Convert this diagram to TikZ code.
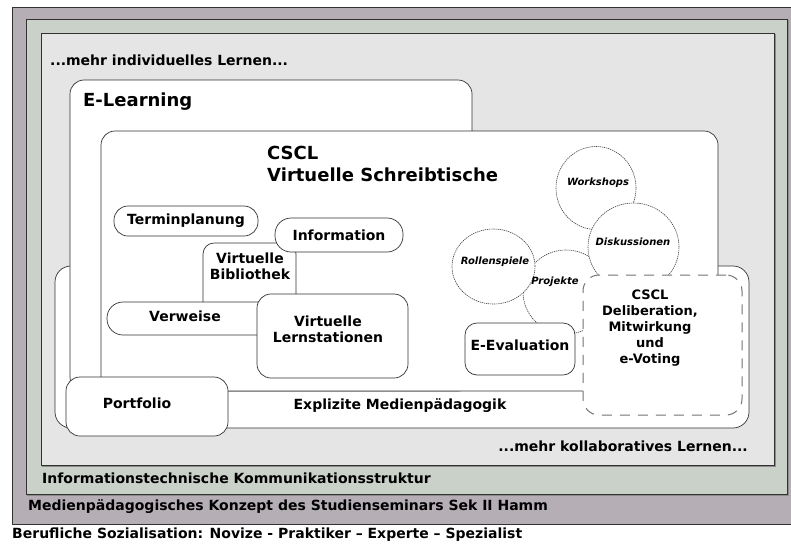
\documentclass[tikz,border=0pt]{standalone}
\usepackage{fontspec}
\setmainfont{DejaVu Sans}
\usetikzlibrary{shapes.geometric}
\definecolor{outerc}{RGB}{181,174,181}
\definecolor{greenc}{RGB}{201,209,201}
\definecolor{lightc}{RGB}{229,229,229}
\definecolor{linec}{RGB}{50,50,50}
\tikzset{
  frame/.style={draw=linec, line width=0.9pt},
  rbox/.style={draw=linec, fill=white, line width=0.7pt, rounded corners=#1, inner sep=0pt, outer sep=0pt},
  rbox/.default=12pt,
  ell/.style={ellipse, draw=black!75, fill=white, line width=0.6pt, dash pattern=on 1.3pt off 0.8pt, inner sep=0pt, outer sep=0pt},
  dbox/.style={draw=black!55, fill=white, line width=1pt, rounded corners=16pt, dash pattern=on 10pt off 8pt, inner sep=0pt, outer sep=0pt},
  tx/.style={font=\fontsize{14}{16}\selectfont\bfseries, inner sep=0pt, align=center},
  ttl/.style={font=\fontsize{18}{22}\selectfont\bfseries, inner sep=0pt, align=left},
  ctx/.style={font=\fontsize{10}{12}\selectfont\bfseries\itshape, inner sep=0pt},
}
\begin{document}
\begin{tikzpicture}[x=1pt,y=-1pt]
\useasboundingbox (0,0) rectangle (791,544);
\fill[white] (0,0) rectangle (791,544);
% layered background frames
\path[frame, fill=outerc] (12,7) rectangle (792,524);
\path[frame, fill=greenc] (26,19) rectangle (787,494);
\draw[black!45, line width=1.5pt] (788.5,20) -- (788.5,495.5) -- (27,495.5);
\path[frame, fill=lightc] (41,33) rectangle (774,465);
\draw[black!45, line width=1.5pt] (775.5,34) -- (775.5,466.5) -- (42,466.5);

\node[tx, anchor=west] (indiv) at (50,60) {...mehr individuelles Lernen...};
\node[tx, anchor=east] (kollab) at (748,446) {...mehr kollaboratives Lernen...};
\node[tx, anchor=west] (itk) at (42,478) {Informationstechnische Kommunikationsstruktur};
\node[tx, anchor=west] (konzept) at (28,507) {Medienpädagogisches Konzept des Studienseminars Sek II Hamm};
\node[tx, anchor=west] (sozial) at (12,535) {Berufliche Sozialisation: Novize - Praktiker – Experte – Spezialist};

% large boxes
\node[rbox=16pt, minimum width=694pt, minimum height=162pt] (explizit) at (402,347) {};
\node[tx] (explizittext) at (400,406) {Explizite Medienpädagogik};
\node[rbox=14pt, minimum width=402pt, minimum height=311pt] (elearn) at (271,235.5) {};
\node[ttl, anchor=west] (elearntitle) at (83,102) {E-Learning};
\node[rbox=14pt, minimum width=617pt, minimum height=260pt] (cscl) at (409.5,261) {};
\node[ttl, anchor=west] (cscltitle) at (267,164) {CSCL\\Virtuelle Schreibtische};

\node[rbox=14pt, minimum width=162pt, minimum height=59pt] (portfolio) at (147,406.5) {};
\node[tx] (portfoliotext) at (137,403) {Portfolio};

% small boxes
\node[rbox=14pt, tx, minimum width=144pt, minimum height=30pt] (termin) at (186,221) {Terminplanung};
\node[rbox=11pt, minimum width=93pt, minimum height=77pt] (biblio) at (249.5,281.5) {};
\node[tx] (bibliotext) at (250,266) {Virtuelle\\Bibliothek};
\node[rbox=16pt, tx, minimum width=128pt, minimum height=34pt] (info) at (339,235) {Information};
\node[rbox=16pt, minimum width=173pt, minimum height=33pt] (verweise) at (193.5,318.5) {};
\node[tx] (verweisetext) at (185,316) {Verweise};
\node[rbox=14pt, minimum width=151pt, minimum height=84pt] (lernst) at (332.5,336) {};
\node[tx] (lernsttext) at (328,329.5) {Virtuelle\\Lernstationen};

% circles
\node[ell, minimum width=86pt, minimum height=84pt] (projekte) at (566,292) {};
\node[ell, minimum width=83pt, minimum height=75pt] (rollen) at (493.5,266.5) {};
\node[ell, minimum width=80pt, minimum height=83pt] (workshops) at (596,188) {};
\node[ell, minimum width=91pt, minimum height=88pt] (diskuss) at (633.5,247) {};
\node[ctx] (workshopstext) at (598,183) {Workshops};
\node[ctx] (diskusstext) at (633,242) {Diskussionen};
\node[ctx] (rollentext) at (495,262) {Rollenspiele};
\node[ctx] (projektetext) at (555,282) {Projekte};

\node[rbox=12pt, tx, minimum width=110pt, minimum height=52pt] (eeval) at (520,349) {};
\node[tx] (eevaltext) at (520,345) {E-Evaluation};

% dashed box
\node[dbox, minimum width=159pt, minimum height=140pt] (deliber) at (662.5,345) {};
\node[tx, font=\fontsize{13}{16.2}\selectfont\bfseries] (delibertext) at (650,328) {CSCL\\Deliberation,\\Mitwirkung\\und\\e-Voting};
\end{tikzpicture}
\end{document}
